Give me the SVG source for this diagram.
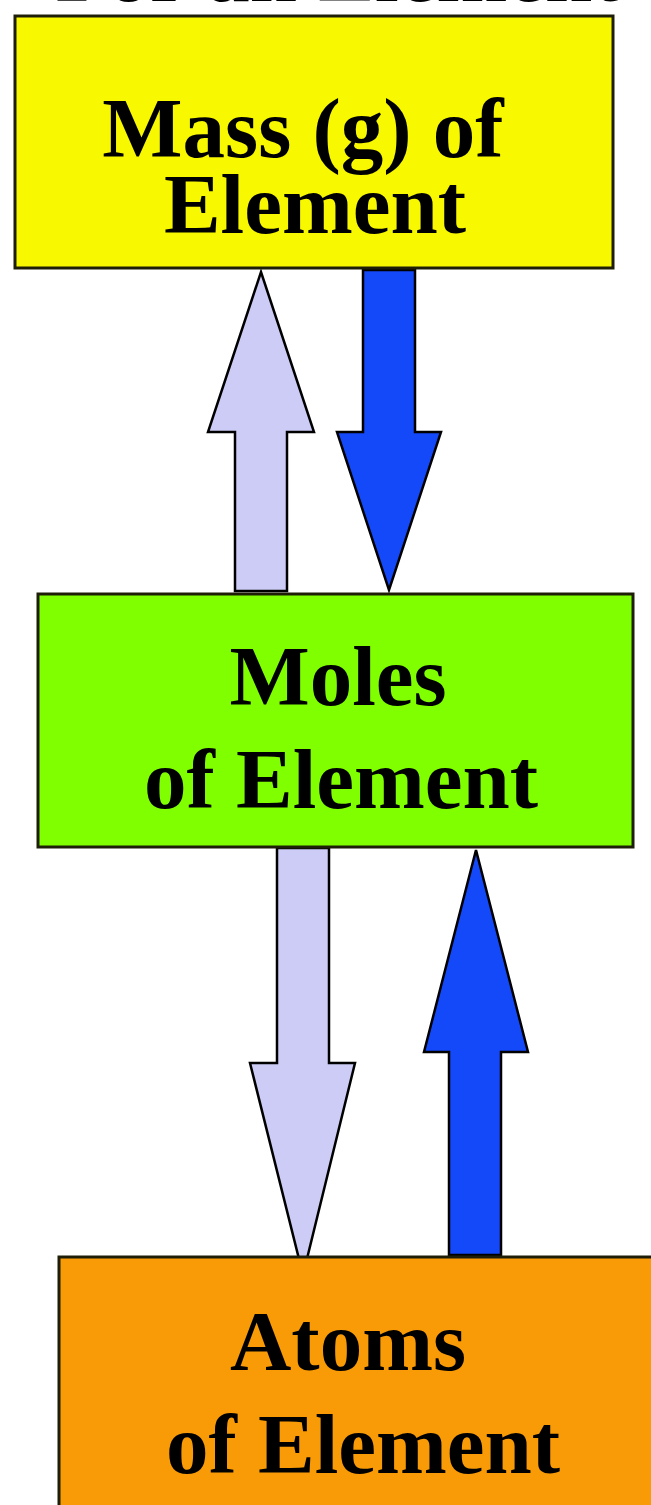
<svg xmlns="http://www.w3.org/2000/svg" width="651" height="1505" viewBox="0 0 651 1505">
<style>
.lbl{font-family:"Liberation Serif","Times New Roman",serif;font-weight:bold;font-size:85px;fill:#000;text-anchor:middle}
.box{stroke:#1e1e08;stroke-width:3}
.arr{stroke:#000;stroke-width:2.5;stroke-linejoin:miter}
.lav{fill:#ccccf6}
.blu{fill:#1449f9}
</style>
<rect width="651" height="1505" fill="#fff"/>
<text class="lbl" x="338" y="1">For an Element</text>
<g id="connectors">
<path class="arr lav" d="M235,591 L235,432 L208,432 L261,272 L314,432 L287,432 L287,591 Z"/>
<path class="arr blu" d="M363,270 L415,270 L415,432 L441,432 L389,590 L337,432 L363,432 Z"/>
<path class="arr lav" d="M277,848 L329,848 L329,1063 L355,1063 L303,1275 L250,1063 L277,1063 Z"/>
<path class="arr blu" d="M449,1255 L449,1052 L424,1052 L476,850 L528,1052 L501,1052 L501,1255 Z"/>
</g>
<g id="mass">
<rect class="box" x="15" y="16" width="598" height="252" fill="#f8f800"/>
<text class="lbl" x="303" y="157">Mass (g) of</text>
<text class="lbl" x="315" y="233">Element</text>
</g>
<g id="moles">
<rect class="box" x="38" y="594" width="595" height="253" fill="#80ff00" stroke="#14300a"/>
<text class="lbl" x="338" y="705">Moles</text>
<text class="lbl" x="341" y="808">of Element</text>
</g>
<g id="atoms">
<rect class="box" x="59" y="1257" width="600" height="260" fill="#f99b06" stroke="#3a2000"/>
<text class="lbl" x="348" y="1370">Atoms</text>
<text class="lbl" x="363" y="1473">of Element</text>
</g>
</svg>
